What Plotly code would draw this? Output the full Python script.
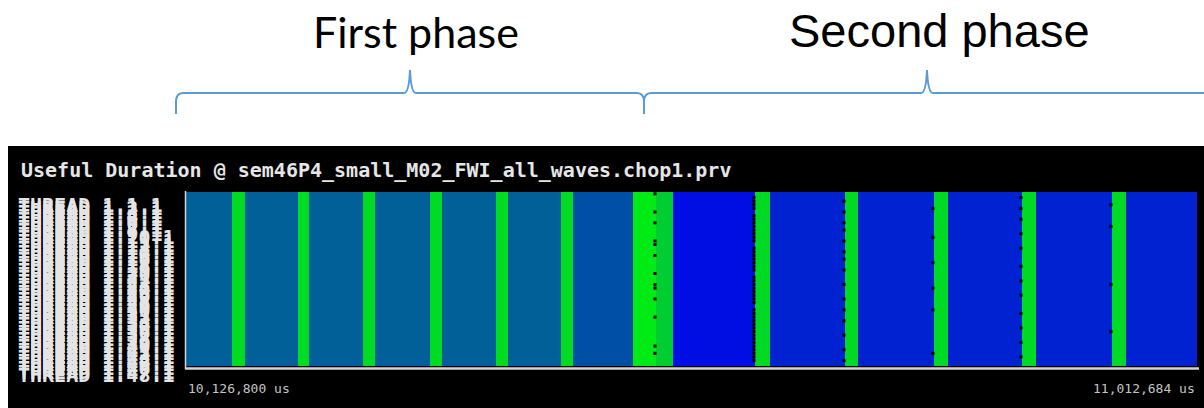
import plotly.graph_objects as go

W, H = 1204, 408

# ---------------- data ----------------
thread_ids = list(range(1, 49))
thread_labels = ["THREAD 1.%d.1" % i for i in thread_ids]

# burst boundaries (us) along the time axis
segment_edges_us = [10126800, 10167100, 10178500, 10224900, 10234600, 10281900,
                    10292400, 10340600, 10351100, 10398400, 10408900, 10455400,
                    10465900, 10518500, 10538600, 10553500, 10625400, 10638500,
                    10704200, 10715600, 10782200, 10794500, 10859300, 10871600,
                    10938200, 10950500, 11012684]
# useful duration of each burst (us)
segment_useful_us = [47500, 10500, 47500, 10500, 47500, 10500,
                     47500, 10500, 47500, 10500, 47500, 10500,
                     52600, 6000, 15000,
                     72000, 11000, 66000, 11000, 66000, 11000,
                     66000, 11000, 66000, 11000, 66000]

# short non-useful gaps (black) : time (us) and threads where they appear
gap_times_us = [10537750, 10624500, 10703370, 10781350, 10858460, 10937320]
gap_threads = [
    [1, 6, 9, 14, 15, 18, 23, 26, 27, 30, 35, 43, 45],
    [2, 3, 4, 5, 7, 8, 9, 10, 11, 12, 13, 14, 16, 17, 18, 19, 20, 21, 22, 24,
     25, 26, 27, 28, 29, 30, 31, 33, 34, 35, 36, 37, 38, 39, 40, 41, 42, 43,
     44, 45, 46, 47],
    [3, 6, 9, 11, 14, 17, 19, 22, 26, 30, 33, 36, 40, 44, 47],
    [5, 13, 20, 27, 33, 45],
    [2, 5, 8, 12, 16, 21, 25, 29, 34, 38, 42, 46],
    [4, 10, 26, 39],
]

time_tick_labels = ["10,126,800 us", "11,012,684 us"]
title_text = "Useful Duration @ sem46P4_small_M02_FWI_all_waves.chop1.prv"
phase_labels = ["First phase", "Second phase"]


def px(x):
    return x / W


def py(y):
    return 1 - y / H


# ---------------- figure ----------------
z = [segment_useful_us for _ in thread_ids]

fig = go.Figure()
fig.add_trace(go.Heatmap(
    x=segment_edges_us, y=thread_ids, z=z,
    colorscale=[[0, "rgb(0,255,2)"], [1, "rgb(0,0,240)"]],
    zmin=0, zmax=76000, showscale=False, hoverinfo="skip", zsmooth=False,
))

gx, gy = [], []
for t, rows in zip(gap_times_us, gap_threads):
    for r in rows:
        gx.append(t)
        gy.append(r)
fig.add_trace(go.Scatter(
    x=gx, y=gy, mode="markers",
    marker=dict(symbol="square", size=3, color="black", line=dict(width=0)),
    hoverinfo="skip", showlegend=False,
))

fig.update_layout(
    width=W, height=H,
    margin=dict(l=0, r=0, t=0, b=0),
    paper_bgcolor="white", plot_bgcolor="black",
    showlegend=False,
    xaxis=dict(domain=[px(186), px(1197)],
               range=[segment_edges_us[0], segment_edges_us[-1]],
               visible=False, fixedrange=True),
    yaxis=dict(domain=[py(366), py(192)],
               range=[len(thread_ids) + 0.5, 0.5],
               visible=False, fixedrange=True),
)

shapes = []
# black window panel
shapes.append(dict(type="rect", xref="paper", yref="paper", layer="below",
                   x0=px(8), x1=1, y0=0, y1=py(146),
                   fillcolor="black", line=dict(width=0)))
# axis frame lines
shapes.append(dict(type="line", xref="paper", yref="paper",
                   x0=px(185), x1=px(1199), y0=py(368.5), y1=py(368.5),
                   line=dict(color="#d4d4d4", width=2.5)))
shapes.append(dict(type="line", xref="paper", yref="paper",
                   x0=px(185.5), x1=px(185.5), y0=py(191), y1=py(369),
                   line=dict(color="#d4d4d4", width=1.5)))


def path(points_cmds):
    out = []
    for cmd, *pts in points_cmds:
        coords = " ".join("%.5f,%.5f" % (px(a), py(b)) for a, b in pts)
        out.append(cmd + " " + coords)
    return " ".join(out)


brace1 = path([("M", (176, 114)), ("L", (176, 102)), ("Q", (176, 93), (183, 93)),
               ("L", (404, 93)), ("Q", (409, 93), (410, 70)),
               ("Q", (411, 93), (416, 93)), ("L", (637, 93)),
               ("Q", (644, 93), (644, 102)), ("L", (644, 114))])
brace2 = path([("M", (644, 114)), ("L", (644, 102)), ("Q", (644, 93), (651, 93)),
               ("L", (921, 93)), ("Q", (926, 93), (927, 70)),
               ("Q", (928, 93), (933, 93)), ("L", (1204, 93))])
for p in (brace1, brace2):
    shapes.append(dict(type="path", xref="paper", yref="paper", path=p,
                       line=dict(color="#5b9bd5", width=2)))
fig.update_layout(shapes=shapes)

annotations = []
annotations.append(dict(text=phase_labels[0], xref="paper", yref="paper",
                        x=px(416), y=py(32), xanchor="center", yanchor="middle",
                        showarrow=False,
                        font=dict(family="Lato", size=43, color="black")))
annotations.append(dict(text=phase_labels[1], xref="paper", yref="paper",
                        x=px(939), y=py(31), xanchor="center", yanchor="middle",
                        showarrow=False,
                        font=dict(family="Liberation Sans", size=47, color="black")))
annotations.append(dict(text=title_text, xref="paper", yref="paper",
                        x=px(19), y=py(170), xanchor="left", yanchor="middle",
                        showarrow=False,
                        font=dict(family="DejaVu Sans Mono", size=20,
                                  color="#e6e6e6", weight="bold")))
for tid, lab in zip(thread_ids, thread_labels):
    annotations.append(dict(text=lab, xref="paper", yref="y",
                            x=px(16), y=tid, yshift=-11,
                            xanchor="left", yanchor="middle", showarrow=False,
                            font=dict(family="DejaVu Sans Mono", size=20,
                                      color="#e4e4e4", weight="bold")))
annotations.append(dict(text=time_tick_labels[0], xref="x", yref="paper",
                        x=segment_edges_us[0], y=py(388), xanchor="left",
                        yanchor="middle", showarrow=False,
                        font=dict(family="DejaVu Sans Mono", size=13, color="#c4c4c4")))
annotations.append(dict(text=time_tick_labels[1], xref="x", yref="paper",
                        x=segment_edges_us[-1], y=py(388), xanchor="right",
                        yanchor="middle", showarrow=False,
                        font=dict(family="DejaVu Sans Mono", size=13, color="#c4c4c4")))
fig.update_layout(annotations=annotations)

fig.write_html("out.html",
               config={"displayModeBar": False},
               post_script="document.body.style.margin='0';"
                           "document.body.style.overflow='hidden';")
